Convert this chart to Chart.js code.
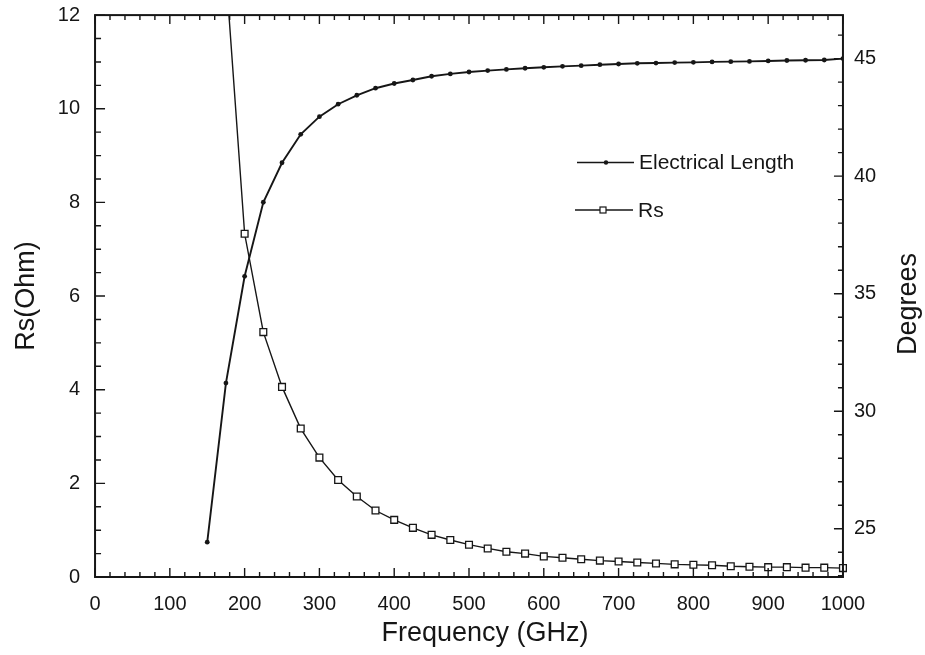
<!DOCTYPE html>
<html>
<head>
<meta charset="utf-8">
<title>Rs and Electrical Length vs Frequency</title>
<script src="https://cdn.jsdelivr.net/npm/chart.js@4.4.1/dist/chart.umd.min.js"></script>
<style>
  body { margin: 0; background: #fff; }
  #chart { display: block; }
</style>
</head>
<body>
<canvas id="chart" width="925" height="655"></canvas>
<script>
// data
var frequency = [150, 175, 200, 225, 250, 275, 300, 325, 350, 375, 400, 425, 450, 475, 500, 525, 550, 575,
  600, 625, 650, 675, 700, 725, 750, 775, 800, 825, 850, 875, 900, 925, 950, 975, 1000];
var electricalLength = [24.43, 31.2, 35.74, 38.89, 40.57, 41.78, 42.53, 43.06, 43.44, 43.74, 43.94, 44.09,
  44.25, 44.35, 44.43, 44.49, 44.54, 44.59, 44.63, 44.67, 44.70, 44.74, 44.77, 44.80, 44.81, 44.83, 44.84,
  44.86, 44.87, 44.88, 44.90, 44.92, 44.93, 44.94, 45.0];
var rsOhm = [null, 12.9, 7.33, 5.23, 4.06, 3.17, 2.55, 2.07, 1.72, 1.42, 1.22, 1.05, 0.90, 0.79, 0.69, 0.61,
  0.54, 0.50, 0.44, 0.41, 0.38, 0.35, 0.33, 0.31, 0.29, 0.27, 0.26, 0.25, 0.23, 0.22, 0.21, 0.21, 0.20,
  0.20, 0.19];
var freqTicks = [0, 100, 200, 300, 400, 500, 600, 700, 800, 900, 1000];
var rsTicks = [0, 2, 4, 6, 8, 10, 12];
var degTicks = [25, 30, 35, 40, 45];

var ink = '#161616';
var family = '"Liberation Sans", Arial, Helvetica, sans-serif';

function points(ys) {
  return frequency.map(function (f, i) { return {x: f, y: ys[i]}; });
}

function fixedTicks(values) {
  return function (axis) {
    axis.ticks = values.map(function (v) { return {value: v}; });
  };
}

function plain(value) {
  return String(value);
}

// box round the plot with inward ticks on all four sides
var frameTicks = {
  id: 'frameTicks',
  afterDatasetsDraw: function (chart) {
    var ctx = chart.ctx;
    var a = chart.chartArea;
    var x = chart.scales.x, y = chart.scales.y, y2 = chart.scales.y2;
    var v, p, len;
    ctx.save();
    ctx.strokeStyle = ink;
    ctx.lineWidth = 1.4;
    ctx.beginPath();
    for (v = x.min; v <= x.max; v += 20) {
      p = x.getPixelForValue(v);
      len = v % 100 === 0 ? 9 : 5;
      ctx.moveTo(p, a.bottom); ctx.lineTo(p, a.bottom - len);
      ctx.moveTo(p, a.top); ctx.lineTo(p, a.top + len);
    }
    for (v = y.min; v <= y.max; v += 0.5) {
      p = y.getPixelForValue(v);
      len = v % 2 === 0 ? 10 : 6;
      ctx.moveTo(a.left, p); ctx.lineTo(a.left + len, p);
    }
    for (v = Math.ceil(y2.min); v <= y2.max; v += 1) {
      p = y2.getPixelForValue(v);
      len = v % 5 === 0 ? 9 : 5;
      ctx.moveTo(a.right, p); ctx.lineTo(a.right - len, p);
    }
    ctx.stroke();
    ctx.lineWidth = 2;
    ctx.strokeRect(a.left, a.top, a.right - a.left, a.bottom - a.top);
    ctx.restore();
  }
};

// titles whose space is kept by the scales but drawn here:
// the right one reads bottom to top, the bottom one sits right of centre
var axisTitles = {
  id: 'axisTitles',
  afterDraw: function (chart) {
    var ctx = chart.ctx;
    var s = chart.scales.y2;
    var xs = chart.scales.x;
    ctx.save();
    ctx.fillStyle = ink;
    ctx.font = '27px ' + family;
    ctx.textAlign = 'center';
    ctx.textBaseline = 'middle';
    ctx.fillText(xs.options.title.text, 485, 634);
    ctx.translate(s.right - 13.5, (s.top + s.bottom) / 2 + 8);
    ctx.rotate(-Math.PI / 2);
    ctx.fillText(s.options.title.text, 0, 0);
    ctx.restore();
  }
};

// key inside the plot: line with the marker in the middle
var curveKey = {
  id: 'curveKey',
  afterDraw: function (chart) {
    var ctx = chart.ctx;
    var sets = chart.data.datasets;
    var rows = [
      {set: sets[0], y: 162.5, x0: 577, x1: 634, mx: 606, tx: 639},
      {set: sets[1], y: 210, x0: 575, x1: 633, mx: 603, tx: 638}
    ];
    ctx.save();
    ctx.font = '21px ' + family;
    ctx.textBaseline = 'middle';
    rows.forEach(function (r) {
      ctx.strokeStyle = ink;
      ctx.lineWidth = 1.4;
      ctx.beginPath();
      ctx.moveTo(r.x0, r.y);
      ctx.lineTo(r.x1, r.y);
      ctx.stroke();
      if (r.set.pointStyle === 'rect') {
        ctx.fillStyle = '#fff';
        ctx.fillRect(r.mx - 3, r.y - 3, 6, 6);
        ctx.lineWidth = 1.2;
        ctx.strokeRect(r.mx - 3, r.y - 3, 6, 6);
      } else {
        ctx.fillStyle = ink;
        ctx.beginPath();
        ctx.arc(r.mx, r.y, 2.2, 0, Math.PI * 2);
        ctx.fill();
      }
      ctx.fillStyle = ink;
      ctx.fillText(r.set.label, r.tx, r.y + 1);
    });
    ctx.restore();
  }
};

var tickFont = {family: family, size: 20, lineHeight: 1};
// tiny line height so the end labels do not push the plot top down
var sideTickFont = {family: family, size: 20, lineHeight: 0.01};
var titleFont = {family: family, size: 27, lineHeight: 1};
var hidden = 'rgba(0,0,0,0)';

var ctx = document.getElementById('chart');
var myChart = new Chart(ctx, {
  type: 'line',
  data: {
    datasets: [{
        label: 'Electrical Length',
        data: points(electricalLength),
        yAxisID: 'y2',
        borderColor: ink,
        backgroundColor: ink,
        borderWidth: 1.9,
        pointRadius: 2.4,
        pointBackgroundColor: ink,
        pointBorderColor: ink,
        pointBorderWidth: 0,
        fill: false
      },
      {
        label: 'Rs',
        data: points(rsOhm),
        yAxisID: 'y',
        borderColor: ink,
        backgroundColor: '#fff',
        borderWidth: 1.4,
        pointStyle: 'rect',
        pointRadius: 4.8,
        pointBackgroundColor: '#fff',
        pointBorderColor: ink,
        pointBorderWidth: 1.3,
        fill: false,
        clip: {left: 6, right: 6, top: 0, bottom: 6}
      }
    ]
  },
  options: {
    responsive: false,
    animation: false,
    layout: {padding: {left: 13.5, right: 2.5, top: 15, bottom: 7.5}},
    scales: {
      x: {
        type: 'linear',
        min: 0,
        max: 1000,
        afterBuildTicks: fixedTicks(freqTicks),
        grid: {display: false, drawTicks: false},
        border: {display: false},
        ticks: {padding: 17, color: ink, font: tickFont, maxRotation: 0, autoSkip: false, callback: plain},
        title: {display: true, text: 'Frequency (GHz)', color: hidden, font: titleFont, padding: {top: -10.5, bottom: 0}}
      },
      y: {
        position: 'left',
        min: 0,
        max: 12,
        afterBuildTicks: fixedTicks(rsTicks),
        grid: {display: false, drawTicks: false},
        border: {display: false},
        ticks: {padding: 15, color: ink, font: sideTickFont, autoSkip: false, callback: plain},
        title: {display: true, text: 'Rs(Ohm)', color: ink, font: titleFont, padding: {top: 0, bottom: 2.3}}
      },
      y2: {
        position: 'right',
        min: 22.95,
        max: 46.85,
        afterBuildTicks: fixedTicks(degTicks),
        grid: {display: false, drawTicks: false},
        border: {display: false},
        ticks: {padding: 11, color: ink, font: sideTickFont, autoSkip: false, callback: plain},
        title: {display: true, text: 'Degrees', color: hidden, font: titleFont, padding: {top: 0, bottom: 8.3}}
      }
    },
    plugins: {
      legend: {display: false},
      tooltip: {enabled: false}
    }
  },
  plugins: [frameTicks, axisTitles, curveKey]
});
</script>
</body>
</html>
